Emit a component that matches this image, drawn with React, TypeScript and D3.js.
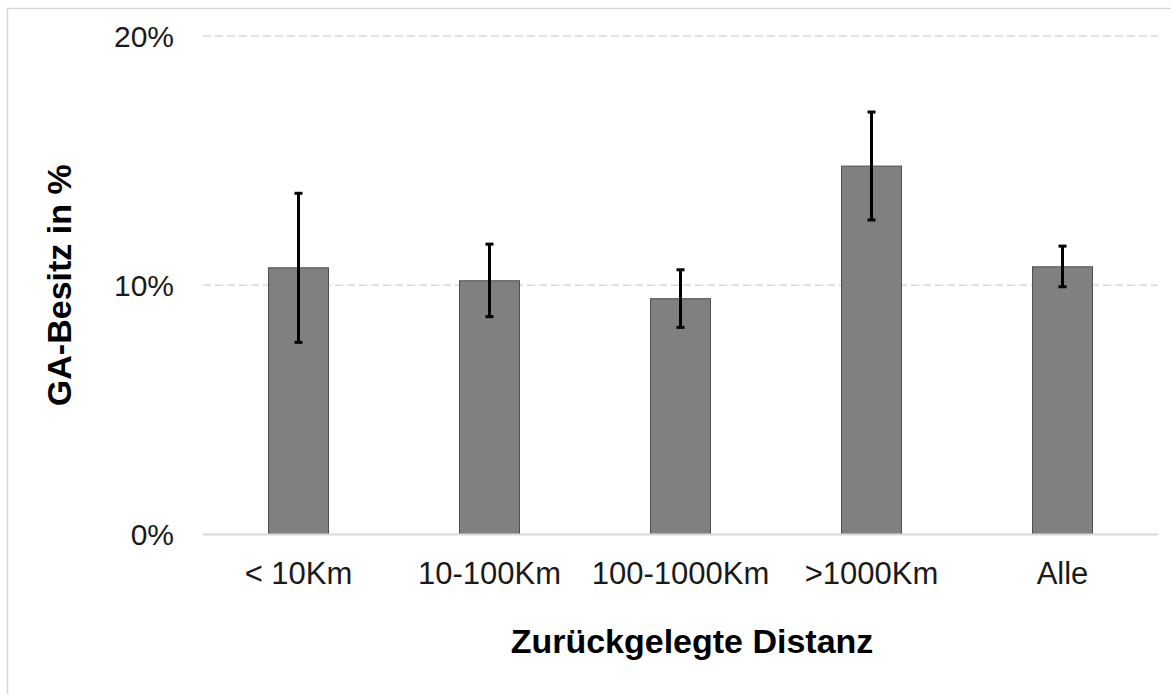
import React from "react";
import * as d3 from "d3";

// GA ownership share by distance travelled, with error ranges (percent)
const categories: string[] = ["< 10Km", "10-100Km", "100-1000Km", ">1000Km", "Alle"];
const values: number[] = [10.7, 10.18, 9.46, 14.78, 10.74];
const errLow: number[] = [7.71, 8.74, 8.31, 12.62, 9.94];
const errHigh: number[] = [13.69, 11.65, 10.62, 16.95, 11.57];
const yTicks: number[] = [0, 10, 20];

const W = 1171;
const H = 694;
const margin = { left: 203, right: 13, top: 36, bottom: 159.5 };

export default function App() {
  const x = d3
    .scaleBand<string>()
    .domain(categories)
    .range([margin.left, W - margin.right])
    .padding(0);
  const y = d3
    .scaleLinear()
    .domain([0, 20])
    .range([H - margin.bottom, margin.top]);

  const barW = x.bandwidth() * 0.314;
  const capW = 8;
  const fontFamily = "'Liberation Sans', Arial, sans-serif";

  return (
    <svg
      width={W}
      height={H}
      style={{ position: "absolute", left: 0, top: 0, background: "#fff" }}
      fontFamily={fontFamily}
    >
      {/* outer frame */}
      <rect x={7.5} y={8.5} width={W + 20} height={H + 20} fill="none" stroke="#d9d9d9" strokeWidth={1.5} />

      {/* gridlines */}
      {yTicks.map((t) =>
        t === 0 ? null : (
          <line
            key={"g" + t}
            x1={margin.left}
            x2={W - margin.right}
            y1={y(t)}
            y2={y(t)}
            stroke="#d9d9d9"
            strokeWidth={1.3}
            strokeDasharray="8,4"
          />
        )
      )}

      {/* bars */}
      {categories.map((c, i) => {
        const cx = (x(c) as number) + x.bandwidth() / 2;
        return (
          <rect
            key={"b" + c}
            x={cx - barW / 2}
            y={y(values[i])}
            width={barW}
            height={y(0) - y(values[i])}
            fill="#808080"
            stroke="#4d4d4d"
            strokeWidth={1}
          />
        );
      })}

      {/* baseline */}
      <line
        x1={margin.left}
        x2={W - margin.right}
        y1={y(0)}
        y2={y(0)}
        stroke="#d9d9d9"
        strokeWidth={1.8}
      />

      {/* error bars */}
      {categories.map((c, i) => {
        const cx = (x(c) as number) + x.bandwidth() / 2;
        return (
          <g key={"e" + c} stroke="#000" strokeWidth={3}>
            <line x1={cx} x2={cx} y1={y(errHigh[i])} y2={y(errLow[i])} />
            <line x1={cx - capW / 2} x2={cx + capW / 2} y1={y(errHigh[i])} y2={y(errHigh[i])} />
            <line x1={cx - capW / 2} x2={cx + capW / 2} y1={y(errLow[i])} y2={y(errLow[i])} />
          </g>
        );
      })}

      {/* y tick labels */}
      {yTicks.map((t) => (
        <text
          key={"yt" + t}
          x={174}
          y={y(t)}
          dy="0.35em"
          textAnchor="end"
          fontSize={30}
          fill="#1a1a1a"
        >
          {t + "%"}
        </text>
      ))}

      {/* x tick labels */}
      {categories.map((c) => (
        <text
          key={"xt" + c}
          x={(x(c) as number) + x.bandwidth() / 2}
          y={584}
          textAnchor="middle"
          fontSize={31}
          fill="#1a1a1a"
        >
          {c}
        </text>
      ))}

      {/* axis titles */}
      <text x={692} y={653} textAnchor="middle" fontSize={34} fontWeight="bold" fill="#000">
        Zurückgelegte Distanz
      </text>
      <text
        transform={`translate(71, ${(y(0) + y(20)) / 2}) rotate(-90)`}
        textAnchor="middle"
        fontSize={34}
        fontWeight="bold"
        fill="#000"
      >
        GA-Besitz in %
      </text>
    </svg>
  );
}
